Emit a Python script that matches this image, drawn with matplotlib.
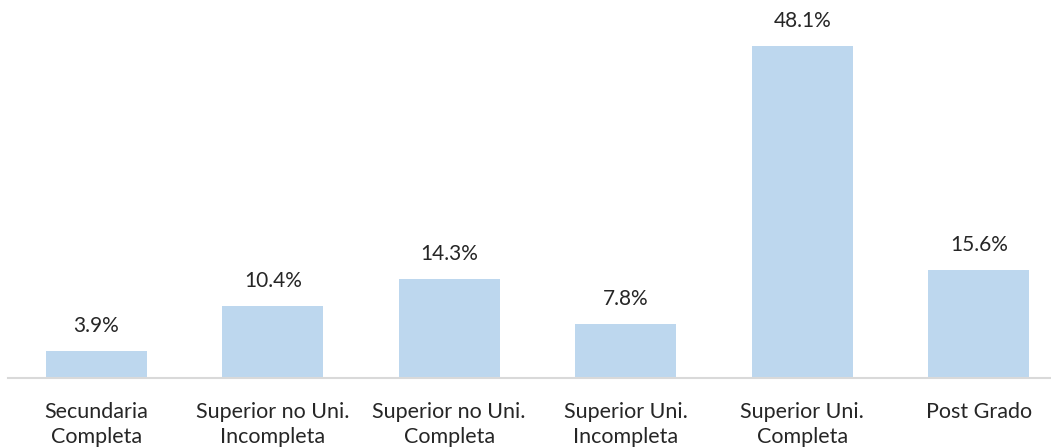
import matplotlib
matplotlib.use("Agg")
import matplotlib.pyplot as plt

categories = ["Secundaria\nCompleta", "Superior no Uni.\nIncompleta", "Superior no Uni.\nCompleta",
              "Superior Uni.\nIncompleta", "Superior Uni.\nCompleta", "Post Grado"]
values = [3.9, 10.4, 14.3, 7.8, 48.1, 15.6]
value_labels = ["3.9%", "10.4%", "14.3%", "7.8%", "48.1%", "15.6%"]

plt.rcParams['font.family'] = ['Lato', 'DejaVu Sans']

W, H = 1051, 447
fig = plt.figure(figsize=(W/100, H/100), dpi=100)
left = 8 / W
width = 1059 / W
bottom = (H - 378) / H
height = 378 / H
ax = fig.add_axes([left, bottom, width, height])

x = list(range(len(categories)))
bars = ax.bar(x, values, width=0.575, color="#BDD7EE", zorder=2)
ax.set_xlim(-0.5, len(categories) - 0.5)
ax.set_ylim(0, 378 / 6.9)

for b, lab in zip(bars, value_labels):
    ax.annotate(lab, (b.get_x() + b.get_width()/2, b.get_height()),
                xytext=(0, 11), textcoords="offset points",
                ha="center", va="bottom", fontsize=15, color="#262626")

ax.set_xticks(x)
ax.set_xticklabels(categories, fontsize=15.5, color="#262626", linespacing=1.32)
ax.tick_params(axis='x', length=0, pad=17)
ax.set_yticks([])
for s in ["top", "right", "left"]:
    ax.spines[s].set_visible(False)
ax.spines["bottom"].set_color("#D9D9D9")
ax.spines["bottom"].set_linewidth(1.5)

fig.savefig("out.png", dpi=100)
